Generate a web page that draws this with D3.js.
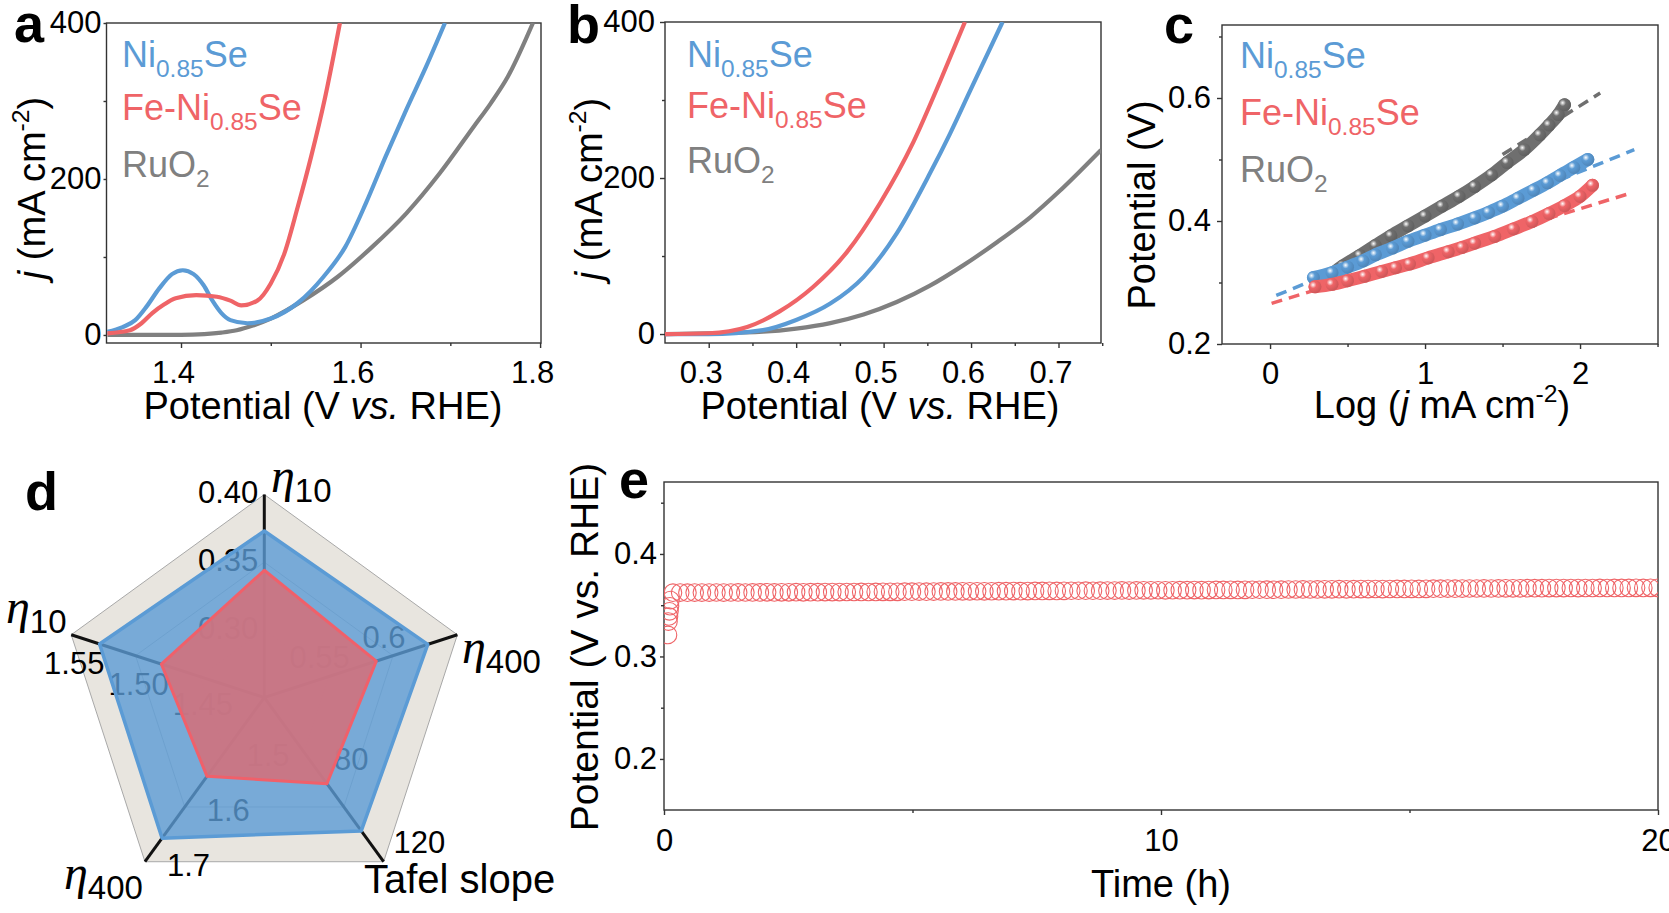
<!DOCTYPE html>
<html>
<head>
<meta charset="utf-8">
<title>Fe-Ni0.85Se OER performance</title>
<script src="https://cdn.jsdelivr.net/npm/d3@7"></script>
<style>
  body { margin: 0; background: #fff; }
  svg text { font-family: 'Liberation Sans', Arial, sans-serif; }
</style>
</head>
<body>
<svg id="fig" width="1669" height="913"></svg>
<script>
// ---------- data ----------
// panel a: LSV curves, [potential V vs RHE, j mA cm-2]
const aNi = [[1.318,4],[1.335,10],[1.349,19],[1.362,37],[1.376,60],[1.390,78],[1.402,83],[1.414,78],[1.425,64],[1.435,44],[1.445,28],[1.455,19],[1.474,15],[1.50,21],[1.53,41],[1.559,75],[1.583,113],[1.606,169],[1.628,229],[1.651,289],[1.673,344],[1.694,400]]
const aFeNi = [[1.318,2],[1.343,6],[1.356,15],[1.368,28],[1.381,39],[1.394,47],[1.417,51],[1.44,49],[1.455,44],[1.467,38],[1.485,44],[1.50,66],[1.515,104],[1.53,164],[1.545,229],[1.56,302],[1.577,400]]
const aRuO2 = [[1.318,0],[1.40,0],[1.426,1],[1.445,3],[1.462,6],[1.48,12],[1.50,21],[1.537,45],[1.575,75],[1.613,113],[1.651,156],[1.688,207],[1.726,267],[1.745,297],[1.764,331],[1.792,400]]
// panel b
const bNi = [[0.25,0],[0.30,0],[0.362,5],[0.40,18],[0.439,39],[0.477,73],[0.515,129],[0.553,206],[0.576,257],[0.599,312],[0.636,400]]
const bFeNi = [[0.25,0],[0.30,1],[0.344,9],[0.381,29],[0.419,60],[0.458,105],[0.496,168],[0.534,246],[0.565,325],[0.593,400]]
const bRuO2 = [[0.25,0],[0.30,1],[0.362,3],[0.40,7],[0.439,14],[0.477,25],[0.515,41],[0.553,62],[0.591,88],[0.63,118],[0.668,150],[0.70,182],[0.7486,236]]
// panel c: Tafel plots, [log j, potential V] and fitted lines
const cNi = [[0.28,0.308],[0.4,0.316],[0.5,0.325],[0.6,0.335],[0.68,0.345],[0.79,0.356],[0.89,0.367],[1.0,0.377],[1.1,0.386],[1.21,0.395],[1.32,0.405],[1.41,0.414],[1.5,0.424],[1.6,0.437],[1.7,0.45],[1.79,0.462],[1.87,0.474],[1.96,0.487],[2.05,0.50]]
const cFeNi = [[0.29,0.293],[0.4,0.297],[0.5,0.303],[0.61,0.31],[0.72,0.318],[0.81,0.324],[0.9,0.33],[1.02,0.34],[1.15,0.35],[1.24,0.357],[1.32,0.364],[1.45,0.375],[1.57,0.387],[1.69,0.399],[1.8,0.412],[1.9,0.425],[2.0,0.44],[2.08,0.458]]
const cRuO2 = [[0.3,0.295],[0.38,0.31],[0.47,0.327],[0.58,0.344],[0.68,0.36],[0.78,0.376],[0.89,0.392],[1.0,0.408],[1.11,0.424],[1.22,0.44],[1.32,0.456],[1.43,0.475],[1.53,0.495],[1.64,0.516],[1.74,0.54],[1.80,0.556],[1.86,0.573],[1.90,0.589]]
const cNiFit = [[0.04,0.279],[2.35,0.516]]
const cFeNiFit = [[0.01,0.266],[2.31,0.444]]
const cRuO2Fit = [[1.5,0.508],[2.13,0.608]]
// panel d: radar (clockwise from top)
const radarAxes = ['10', '400', 'Tafel slope', '400', '10']
const radarMin = [0.25, 0.5, 40, 1.4, 1.4]
const radarMax = [0.40, 0.65, 120, 1.7, 1.55]
const radarTicks = [[0.30,0.35,0.40],[0.55,0.6],[80,120],[1.5,1.6,1.7],[1.45,1.50,1.55]]
const radarFmt = ['.2f', '.2~f', 'd', '.1f', '.2f']
const radarNi = [0.373, 0.627, 105, 1.657, 1.528]
const radarFeNi = [0.344, 0.587, 82, 1.544, 1.480]
// panel e: chronopotentiometry
const eStartTimes = [0.08, 0.09, 0.10, 0.11, 0.12, 0.13]
const eStartValues = [0.321, 0.334, 0.339, 0.344, 0.349, 0.355]
const eFirstTime = 0.18, eStep = 0.1457   // recording interval (h)
const eValues = [
  0.3622,0.3623,0.3622,0.3623,0.3623,0.3623,0.3624,0.3623,0.3624,0.3625,
  0.3624,0.3625,0.3625,0.3626,0.3625,0.3626,0.3626,0.3627,0.3626,0.3627,
  0.3627,0.3628,0.3628,0.3628,0.3629,0.3629,0.3630,0.3629,0.3630,0.3631,
  0.3631,0.3631,0.3632,0.3632,0.3633,0.3632,0.3633,0.3634,0.3634,0.3634,
  0.3635,0.3635,0.3636,0.3635,0.3636,0.3637,0.3637,0.3638,0.3637,0.3638,
  0.3639,0.3639,0.3640,0.3639,0.3640,0.3641,0.3641,0.3642,0.3641,0.3642,
  0.3643,0.3643,0.3644,0.3643,0.3644,0.3645,0.3645,0.3646,0.3645,0.3646,
  0.3647,0.3647,0.3648,0.3647,0.3648,0.3649,0.3649,0.3650,0.3649,0.3650,
  0.3651,0.3651,0.3652,0.3651,0.3652,0.3653,0.3653,0.3654,0.3653,0.3654,
  0.3655,0.3655,0.3656,0.3655,0.3656,0.3657,0.3657,0.3658,0.3657,0.3658,
  0.3659,0.3659,0.3660,0.3659,0.3660,0.3661,0.3661,0.3662,0.3661,0.3662,
  0.3663,0.3663,0.3664,0.3663,0.3664,0.3665,0.3665,0.3665,0.3666,0.3666,
  0.3666,0.3667,0.3667,0.3667,0.3668,0.3667,0.3668,0.3668,0.3669,0.3668,
  0.3669,0.3669,0.3669,0.3670,0.3669,0.3670,0.3670]

const legendParts = [
  [{t:'Ni'},{t:'0.85',sub:true},{t:'Se'}],
  [{t:'Fe-Ni'},{t:'0.85',sub:true},{t:'Se'}],
  [{t:'RuO'},{t:'2',sub:true}]
]

const blue = '#5b9bd5', red = '#ef6467', grey = '#808080'
const svg = d3.select('#fig')
const defs = svg.append('defs')

// rich text with sub/superscripts
function rich(g, x, y, parts, size, color, extra) {
  const t = g.append('text').attr('x', x).attr('y', y)
    .attr('font-size', size).attr('fill', color)
  let shift = 0
  parts.forEach(p => {
    const s = t.append('tspan').text(p.t)
    let target = 0
    if (p.sub) { s.attr('font-size', size * 0.68); target = size * 0.27 }
    if (p.sup) { s.attr('font-size', size * 0.65); target = -size * 0.42 }
    if (p.it) s.attr('font-style', 'italic')
    if (target !== shift) { s.attr('dy', target - shift); shift = target }
  })
  if (extra) extra(t)
  return t
}

function legend(g, x, ys, size) {
  const cols = [blue, red, grey]
  legendParts.forEach((p, i) => rich(g, x, ys[i], p, size, cols[i]))
}

function panel(box, xDom, yDom, cfg) {
  const x = d3.scaleLinear().domain(xDom).range([box.x0, box.x1])
  const y = d3.scaleLinear().domain(yDom).range([box.y1, box.y0])
  const g = svg.append('g')
  const fmtX = cfg.xFmt || (d => d)
  const fmtY = cfg.yFmt || (d => d)
  g.append('g').attr('transform', `translate(0,${box.y1})`)
    .call(d3.axisBottom(x).tickValues(cfg.xMinor).tickSize(3).tickFormat(''))
  const xa = g.append('g').attr('transform', `translate(0,${box.y1})`)
    .call(d3.axisBottom(x).tickValues(cfg.xTicks).tickSize(5).tickPadding(cfg.xPad || 13).tickFormat(fmtX))
  g.append('g').attr('transform', `translate(${box.x0},0)`)
    .call(d3.axisLeft(y).tickValues(cfg.yMinor).tickSize(3).tickFormat(''))
  g.append('g').attr('transform', `translate(${box.x0},0)`)
    .call(d3.axisLeft(y).tickValues(cfg.yTicks).tickSize(cfg.yTick || 5).tickPadding(cfg.yPad || 5).tickFormat(fmtY))
  g.selectAll('.domain').remove()
  g.selectAll('.tick line').attr('stroke', '#333').attr('stroke-width', 1.4)
  g.selectAll('.tick text').attr('font-size', 31).attr('fill', '#000')
    .attr('font-family', "'Liberation Sans', Arial, sans-serif")
  if (cfg.xDx) xa.selectAll('.tick text').attr('dx', cfg.xDx)
  g.append('rect').attr('x', box.x0).attr('y', box.y0)
    .attr('width', box.x1 - box.x0).attr('height', box.y1 - box.y0)
    .attr('fill', 'none').attr('stroke', '#333').attr('stroke-width', 1.4)
  const id = 'clip' + Math.round(box.x0) + '_' + Math.round(box.y0)
  defs.append('clipPath').attr('id', id).append('rect')
    .attr('x', box.x0).attr('y', box.y0).attr('width', box.x1 - box.x0).attr('height', box.y1 - box.y0)
  const plot = svg.append('g').attr('clip-path', `url(#${id})`)
  return {x, y, g, plot}
}

function yTitle(x, y, parts, size) {
  rich(svg, 0, 0, parts, size, '#000', t => t.attr('text-anchor', 'middle')
    .attr('transform', `translate(${x},${y}) rotate(-90)`))
}
function xTitle(x, y, parts, size) {
  rich(svg, x, y, parts, size, '#000', t => t.attr('text-anchor', 'middle'))
}
function letter(x, y, s) {
  svg.append('text').attr('x', x).attr('y', y).attr('font-size', 54)
    .attr('font-weight', 'bold').text(s)
}

const potParts = [{t:'Potential (V '},{t:'vs.',it:true},{t:' RHE)'}]
const jParts = [{t:'j',it:true},{t:' (mA cm'},{t:'-2',sup:true},{t:')'}]

// ---------- panel a ----------
{
  const p = panel({x0:106.5, x1:541, y0:23, y1:343}, [1.317, 1.801], [-10.3, 400],
    {xTicks:[1.4,1.6,1.8], xMinor:[1.5,1.7], yTicks:[0,200,400], yMinor:[100,300],
     xFmt:d3.format('.1f'), yPad:2, yTick:3, xDx:-8})
  const line = d3.line().x(d => p.x(d[0])).y(d => p.y(d[1])).curve(d3.curveMonotoneX)
  ;[[aRuO2, grey],[aNi, blue],[aFeNi, red]].forEach(([d, c]) =>
    p.plot.append('path').datum(d).attr('d', line).attr('fill', 'none')
      .attr('stroke', c).attr('stroke-width', 4.2))
  legend(svg, 122, [67, 120, 177], 36)
  xTitle(323, 419, potParts, 38)
  yTitle(45, 188, jParts, 38)
  letter(14, 42, 'a')
}

// ---------- panel b ----------
{
  const p = panel({x0:665, x1:1101, y0:22, y1:343}, [0.25, 0.7486], [-11.5, 400],
    {xTicks:[0.3,0.4,0.5,0.6,0.7], xMinor:[0.35,0.45,0.55,0.65,0.75], yTicks:[0,200,400], yMinor:[100,300],
     xFmt:d3.format('.1f'), yPad:5, xDx:-8})
  const line = d3.line().x(d => p.x(d[0])).y(d => p.y(d[1])).curve(d3.curveMonotoneX)
  ;[[bRuO2, grey],[bNi, blue],[bFeNi, red]].forEach(([d, c]) =>
    p.plot.append('path').datum(d).attr('d', line).attr('fill', 'none')
      .attr('stroke', c).attr('stroke-width', 4.2))
  legend(svg, 687, [67, 118, 173], 36)
  xTitle(880, 419, potParts, 38)
  yTitle(602, 189, jParts, 38)
  letter(567, 43, 'b')
}

// ---------- panel c ----------
{
  const p = panel({x0:1222, x1:1658, y0:25, y1:344}, [-0.31, 2.503], [0.2, 0.7187],
    {xTicks:[0,1,2], xMinor:[0.5,1.5,2.5], yTicks:[0.2,0.4,0.6], yMinor:[0.3,0.5,0.7],
     yFmt:d3.format('.1f'), yPad:6})
  const sets = [[cRuO2, cRuO2Fit, '#6f6f6f', 'gGrey'], [cNi, cNiFit, blue, 'gBlue'], [cFeNi, cFeNiFit, red, 'gRed']]
  sets.forEach(([pts, fit, c, gid]) => {
    const gr = defs.append('radialGradient').attr('id', gid).attr('cx', '35%').attr('cy', '35%').attr('r', '65%')
    gr.append('stop').attr('offset', '0%').attr('stop-color', '#fff')
    gr.append('stop').attr('offset', '40%').attr('stop-color', c)
    gr.append('stop').attr('offset', '100%').attr('stop-color', d3.color(c).darker(0.4))
  })
  const fitLine = d3.line().x(d => p.x(d[0])).y(d => p.y(d[1]))
  const band = d3.line().x(d => p.x(d[0])).y(d => p.y(d[1])).curve(d3.curveMonotoneX)
  sets.forEach(([pts, fit, c]) => {
    p.plot.append('path').datum(fit).attr('d', fitLine).attr('stroke', c)
      .attr('stroke-width', 3.5).attr('stroke-dasharray', '11,7').attr('fill', 'none')
  })
  sets.forEach(([pts, fit, c, gid]) => {
    p.plot.append('path').datum(pts).attr('d', band).attr('stroke', c)
      .attr('stroke-width', 13).attr('stroke-linecap', 'round').attr('fill', 'none')
    p.plot.append('g').selectAll('circle').data(pts).join('circle')
      .attr('cx', d => p.x(d[0])).attr('cy', d => p.y(d[1])).attr('r', 6.5)
      .attr('fill', `url(#${gid})`)
  })
  legend(svg, 1240, [68, 125, 182], 36)
  xTitle(1442, 418, [{t:'Log ('},{t:'j',it:true},{t:' mA cm'},{t:'-2',sup:true},{t:')'}], 38)
  yTitle(1155, 205, [{t:'Potential (V)'}], 38)
  letter(1164, 43, 'c')
}

// ---------- panel d: radar ----------
{
  const cx = 264.3, cy = 697.5, rad = 203
  const n = radarAxes.length
  const ang = d3.range(n).map(i => i * 2 * Math.PI / n)
  const rScale = radarAxes.map((a, i) => d3.scaleLinear().domain([radarMin[i], radarMax[i]]).range([0, rad]))
  const pt = (i, r) => [cx + r * Math.sin(ang[i]), cy - r * Math.cos(ang[i])]
  const g = svg.append('g')
  const ring = r => d3.range(n).map(i => pt(i, r))
  const poly = d3.line().curve(d3.curveLinearClosed)
  g.append('path').attr('d', poly(ring(rad))).attr('fill', '#e8e5df').attr('stroke', '#a8a8a8').attr('stroke-width', 1)
  ;[rad / 3, rad * 2 / 3].forEach(r => g.append('path').attr('d', poly(ring(r))).attr('fill', 'none')
    .attr('stroke', '#b5b5b5').attr('stroke-width', 1))
  d3.range(n).forEach(i => g.append('line').attr('x1', cx).attr('y1', cy)
    .attr('x2', pt(i, rad)[0]).attr('y2', pt(i, rad)[1]).attr('stroke', '#111').attr('stroke-width', 3))
  // tick label placement relative to the tick point: [anchor, dx, dy(center)]
  const place = [['end', -6, -2], ['middle', -9, -19], ['start', 10, -20], ['start', 22, 3], ['middle', 3, 28]]
  radarTicks.forEach((ticks, i) => ticks.forEach(v => {
    const [px, py] = pt(i, rScale[i](v))
    g.append('text').attr('x', px + place[i][1]).attr('y', py + place[i][2])
      .attr('dy', '0.35em').attr('text-anchor', place[i][0]).attr('font-size', 31)
      .text(d3.format(radarFmt[i])(v))
  }))
  const shape = vals => poly(vals.map((v, i) => pt(i, rScale[i](v))))
  g.append('path').attr('d', shape(radarNi)).attr('fill', blue).attr('fill-opacity', 0.8)
    .attr('stroke', blue).attr('stroke-width', 3.5).attr('stroke-linejoin', 'round')
  g.append('path').attr('d', shape(radarFeNi)).attr('fill', '#cf7380').attr('fill-opacity', 0.93)
    .attr('stroke', '#f0606a').attr('stroke-width', 3).attr('stroke-linejoin', 'round')
  // axis names
  const etaLabel = (x, y, sub) => {
    const t = g.append('text').attr('x', x).attr('y', y)
    t.append('tspan').text('η').attr('font-family', "'Liberation Serif', 'DejaVu Serif', serif")
      .attr('font-style', 'italic').attr('font-size', 48)
    t.append('tspan').text(sub).attr('font-size', 33).attr('dy', 10)
  }
  etaLabel(271, 492, radarAxes[0])
  etaLabel(462, 663, radarAxes[1])
  g.append('text').attr('x', 364).attr('y', 893).attr('font-size', 40).text(radarAxes[2])
  etaLabel(64, 889, radarAxes[3])
  etaLabel(6, 623, radarAxes[4])
  letter(25, 510, 'd')
}

// ---------- panel e ----------
{
  const p = panel({x0:664, x1:1658, y0:482, y1:810}, [0, 20], [0.1502, 0.4702],
    {xTicks:[0,10,20], xMinor:[5,15], yTicks:[0.2,0.3,0.4], yMinor:[0.25,0.35,0.45],
     yFmt:d3.format('.1f'), xPad:14, yPad:3, yTick:4})
  const pts = eStartTimes.map((t, i) => [t, eStartValues[i]])
    .concat(eValues.map((v, i) => [eFirstTime + i * eStep, v]))
  p.plot.append('g').selectAll('circle').data(pts).join('circle')
    .attr('cx', d => p.x(d[0])).attr('cy', d => p.y(d[1])).attr('r', 8.8)
    .attr('fill', 'none').attr('stroke', red).attr('stroke-width', 1.1)
  xTitle(1161, 897, [{t:'Time (h)'}], 38)
  yTitle(598, 647, [{t:'Potential (V vs. RHE)'}], 39)
  letter(619, 498, 'e')
}
</script>
</body>
</html>
